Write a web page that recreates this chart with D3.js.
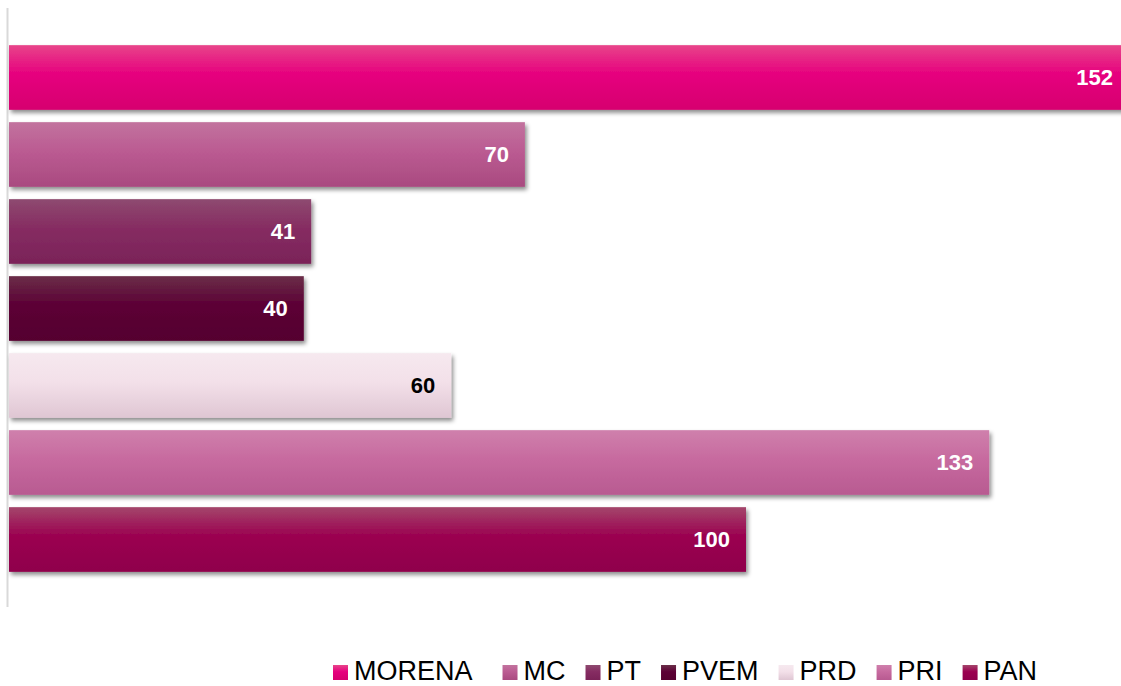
<!DOCTYPE html>
<html>
<head>
<meta charset="utf-8">
<script src="https://cdn.jsdelivr.net/npm/d3@7"></script>
<style>
  body { margin: 0; background: #fff; }
  svg { display: block; font-family: "Liberation Sans", Arial, sans-serif; }
</style>
</head>
<body>
<div id="chart"></div>
<script>
// data
var parties = ["MORENA", "MC", "PT", "PVEM", "PRD", "PRI", "PAN"];
var seats = [152, 70, 41, 40, 60, 133, 100];
// top / middle / bottom gradient stops per party
var colTop = ["#e8458a", "#c2739e", "#8e4a70", "#6a2e48", "#f6e9ef", "#cf80ac", "#a4466b"];
var colMid = ["#e6007e", "#bb5b92", "#862c62", "#5c0035", "#f3e0e9", "#c76a9f", "#9b0050"];
var colBot = ["#d6006f", "#a94a80", "#7a2358", "#55002f", "#dfc6d3", "#b85a91", "#8f004c"];
var labelColor = ["#fff", "#fff", "#fff", "#fff", "#000", "#fff", "#fff"];

var width = 1121, height = 686;
var x0 = 9;

var svg = d3.select("#chart").append("svg")
  .attr("width", width)
  .attr("height", height);

var defs = svg.append("defs");

var shadow = defs.append("filter")
  .attr("id", "shadow")
  .attr("x", "-5%").attr("y", "-20%")
  .attr("width", "110%").attr("height", "150%");
shadow.append("feDropShadow")
  .attr("dx", 2).attr("dy", 3)
  .attr("stdDeviation", 2.2)
  .attr("flood-color", "#000")
  .attr("flood-opacity", 0.45);

parties.forEach(function(p, i){
  var g = defs.append("linearGradient")
    .attr("id", "grad" + i)
    .attr("x1", 0).attr("y1", 0).attr("x2", 0).attr("y2", 1);
  g.append("stop").attr("offset", "0%").attr("stop-color", colTop[i]);
  g.append("stop").attr("offset", "45%").attr("stop-color", colMid[i]);
  g.append("stop").attr("offset", "100%").attr("stop-color", colBot[i]);
});

// 1 seat ~ 7.37px, the top bar runs past the right edge
var x = d3.scaleLinear()
  .domain([0, 150])
  .range([x0, x0 + 150 * 7.37]);

var y = d3.scaleBand()
  .domain(parties)
  .range([39, 578])
  .paddingInner(0.16)
  .paddingOuter(0.08);

// category axis line
svg.append("line")
  .attr("x1", 7.5).attr("x2", 7.5)
  .attr("y1", 8).attr("y2", 607)
  .attr("stroke", "#d9d9d9")
  .attr("stroke-width", 2);

var data = parties.map(function(p, i){ return {party: p, value: seats[i], i: i}; });

var bars = svg.append("g").selectAll("g")
  .data(data).enter().append("g");

bars.append("rect")
  .attr("x", x(0))
  .attr("y", function(d){ return y(d.party); })
  .attr("width", function(d){ return x(d.value) - x(0); })
  .attr("height", y.bandwidth())
  .attr("fill", function(d){ return "url(#grad" + d.i + ")"; })
  .attr("filter", "url(#shadow)");

bars.append("text")
  .attr("x", function(d){ return Math.min(x(d.value), width + 8) - 16; })
  .attr("y", function(d){ return y(d.party) + y.bandwidth() / 2; })
  .attr("dy", "0.36em")
  .attr("text-anchor", "end")
  .attr("font-size", "22px")
  .attr("font-weight", "bold")
  .attr("fill", function(d){ return labelColor[d.i]; })
  .text(function(d){ return d.value; });

// legend
var legend = svg.append("g").attr("transform", "translate(333,0)");
var lx = 0;
parties.forEach(function(p, i){
  var item = legend.append("g").attr("transform", "translate(" + lx + ",0)");
  item.append("rect")
    .attr("x", 0).attr("y", 665)
    .attr("width", 15).attr("height", 15)
    .attr("fill", "url(#grad" + i + ")");
  var t = item.append("text")
    .attr("x", 21).attr("y", 680)
    .attr("font-size", "27px")
    .attr("fill", "#000")
    .text(p);
  lx += 21 + t.node().getComputedTextLength() + (i === 0 ? 30 : 20);
});
</script>
</body>
</html>
